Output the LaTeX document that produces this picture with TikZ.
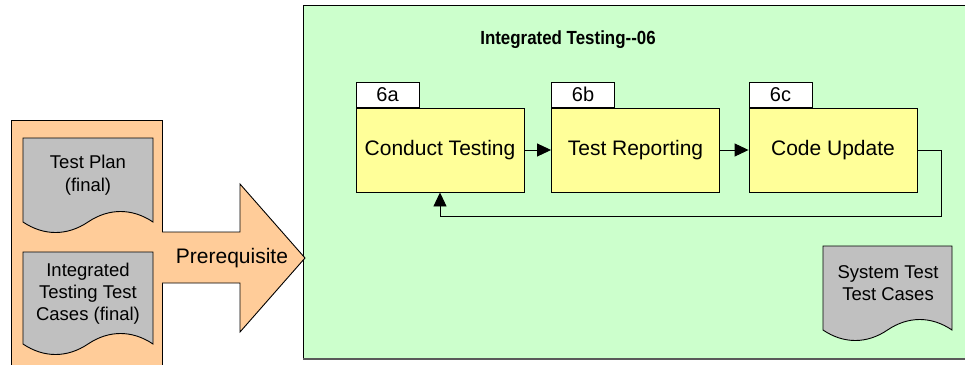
\documentclass[tikz,border=0pt]{standalone}
\usepackage{fontspec}
\setmainfont{Liberation Sans}
\usetikzlibrary{arrows.meta,calc}
\definecolor{peach}{HTML}{FFCC99}
\definecolor{mint}{HTML}{CCFFCC}
\definecolor{lemon}{HTML}{FFFF99}
\definecolor{docgray}{HTML}{C0C0C0}
\tikzset{
  stepbox/.style={draw=black, line width=0.9pt, fill=lemon, minimum width=168pt, minimum height=84pt, inner sep=0pt, font=\fontsize{21}{24}\selectfont},
  tabbox/.style={draw=black, line width=0.9pt, fill=white, minimum width=63pt, minimum height=25pt, inner sep=0pt, font=\fontsize{20}{22}\selectfont},
  doctext/.style={align=center, inner sep=0pt, font=\fontsize{18.5}{22.5}\selectfont},
  flow/.style={draw=black, line width=0.9pt, -{Triangle[length=14pt,width=13pt]}},
}
% document shape: #1 left x, #2 right x, #3 top y, #4 bottom y of sides
\newcommand{\docshape}[4]{%
  \draw[line width=0.9pt, fill=docgray]
    (#1,#3) -- (#2,#3) -- (#2,#4)
    .. controls ({#2-0.16*(#2-#1)},{#4-14}) and ({#2-0.34*(#2-#1)},{#4-14}) .. ({0.5*(#1+#2)},#4)
    .. controls ({#1+0.34*(#2-#1)},{#4+14}) and ({#1+0.16*(#2-#1)},{#4+14}) .. (#1,#4) -- cycle;}
\begin{document}
\begin{tikzpicture}[x=1pt,y=-1pt]
\useasboundingbox (0,0) rectangle (965,364);
\clip (0,0) rectangle (965,364);
\fill[white] (0,0) rectangle (965,364);
% left orange panel
\draw[line width=0.9pt, fill=peach] (11,120) rectangle (162,380);
% green panel
\draw[line width=0.9pt, fill=mint] (303,5) rectangle (980,359);
\draw[line width=2pt, draw=black!65] (303,359) -- (980,359);
% fat arrow
\draw[line width=0.9pt, fill=peach] (162,232) -- (240,232) -- (240,184) -- (305,258) -- (240,332) -- (240,283) -- (162,283);
\node[inner sep=0pt, font=\fontsize{21}{24}\selectfont] (prereq) at (232,258) {Prerequisite};
% documents
\docshape{23}{153}{138}{222}
\node[doctext] (doc1) at (88,175) {Test Plan\\(final)};
\docshape{23}{153}{252}{344}
\node[doctext, font=\fontsize{18.5}{22}\selectfont] (doc2) at (88,294) {Integrated\\Testing Test\\Cases (final)};
\docshape{823}{952}{246}{330}
\node[doctext] (doc3) at (888,283) {System Test\\Test Cases};
% title
\node[font=\bfseries\fontsize{19}{21}\selectfont, inner sep=0pt, xscale=0.89] (title) at (568,40) {Integrated Testing{-}{-}06};
% steps
\node[stepbox] (a) at (440,150) {Conduct Testing};
\node[stepbox] (b) at (635.5,150) {Test Reporting};
\node[stepbox] (c) at (833,150) {Code Update};
\node[tabbox, anchor=south west] (ta) at (a.north west) {6a};
\node[tabbox, anchor=south west] (tb) at (b.north west) {6b};
\node[tabbox, anchor=south west] (tc) at (c.north west) {6c};
% connectors
\draw[flow] (a.east) -- (b.west);
\draw[flow] (b.east) -- (c.west);
\coordinate (fb) at (941,216);
\draw[flow] (c.east) -| (fb) -| (a.south);
\end{tikzpicture}
\end{document}
